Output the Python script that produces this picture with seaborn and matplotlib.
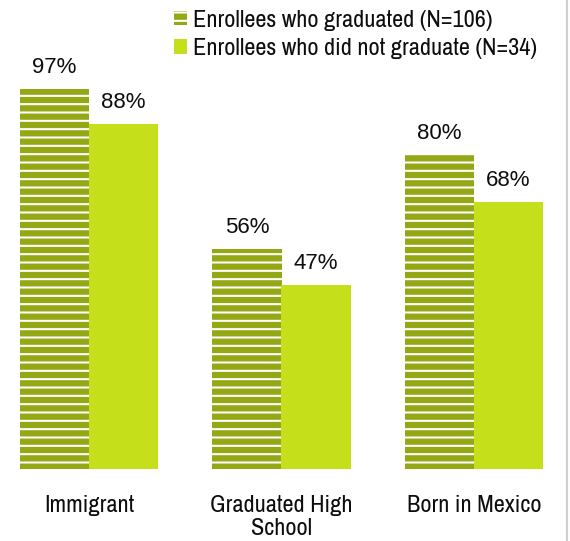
import matplotlib
matplotlib.use("Agg")
import matplotlib.pyplot as plt
from matplotlib import font_manager
import seaborn as sns
import pandas as pd
from matplotlib.lines import Line2D
from matplotlib.patches import Patch

categories = ["Immigrant", "Graduated High\nSchool", "Born in Mexico"]
series_names = ["Enrollees who graduated (N=106)",
                "Enrollees who did not graduate (N=34)"]
graduated = [97, 56, 80]
not_graduated = [88, 47, 68]

dark_green = "#94A714"
light_green = "#C5E01A"
ink = "#0D0D0D"

# prefer a narrow / condensed face if one is installed
names = sorted({f.name for f in font_manager.fontManager.ttflist})
narrow = [n for n in names if ("Narrow" in n or "Condensed" in n)
          and not any(w in n for w in ("Light", "Thin", "Black", "Extra"))]
family = (narrow[:1] or ["Roboto"]) + ["DejaVu Sans"]

sns.set_theme(style="white")
plt.rcParams["font.family"] = family
plt.rcParams["hatch.color"] = "white"
plt.rcParams["hatch.linewidth"] = 1.5

df = pd.DataFrame({
    "category": categories * 2,
    "group": [series_names[0]] * 3 + [series_names[1]] * 3,
    "value": graduated + not_graduated,
})

fig = plt.figure(figsize=(5.7, 5.41), dpi=100)
ax = fig.add_axes([0, 72 / 541, 1, 392 / 541])

sns.barplot(data=df, x="category", y="value", hue="group",
            palette=[dark_green, light_green], width=0.717,
            saturation=1, ax=ax, legend=False)

# striped fill for the graduated series
for bar in ax.containers[0]:
    bar.set_hatch("--")
    bar.set_edgecolor("white")
    bar.set_linewidth(0)
for bar in ax.containers[1]:
    bar.set_linewidth(0)

for cont in ax.containers:
    ax.bar_label(cont, labels=[f"{int(round(b.get_height()))}%" for b in cont],
                 padding=8, fontsize=16, color=ink,
                 family=["Liberation Sans", "DejaVu Sans"])

ax.set_ylim(0, 100)
ax.set_xlim(-89 / 192.5, (570 - 89) / 192.5)
ax.set_xlabel("")
ax.set_ylabel("")
ax.set_yticks([])
ax.tick_params(axis="x", length=0, pad=18.5, labelsize=17.5, labelcolor=ink)
for lbl in ax.get_xticklabels():
    lbl.set_linespacing(1.15)
for s in ax.spines.values():
    s.set_visible(False)

handles = [Patch(facecolor=dark_green, hatch="--", edgecolor="white", linewidth=0),
           Patch(facecolor=light_green, edgecolor="none")]
leg = fig.legend(handles, series_names, loc="upper left",
                 bbox_to_anchor=(164 / 570, 1.0),
                 frameon=False, fontsize=17.5, handlelength=0.55, handleheight=0.55,
                 handletextpad=0.25, labelspacing=0.3, borderaxespad=0)
for t in leg.get_texts():
    t.set_color(ink)

fig.add_artist(Line2D([567 / 570, 567 / 570], [0, 1], color="#D0D0D0", lw=1.5,
                      transform=fig.transFigure))

fig.savefig("out.png", dpi=100)
